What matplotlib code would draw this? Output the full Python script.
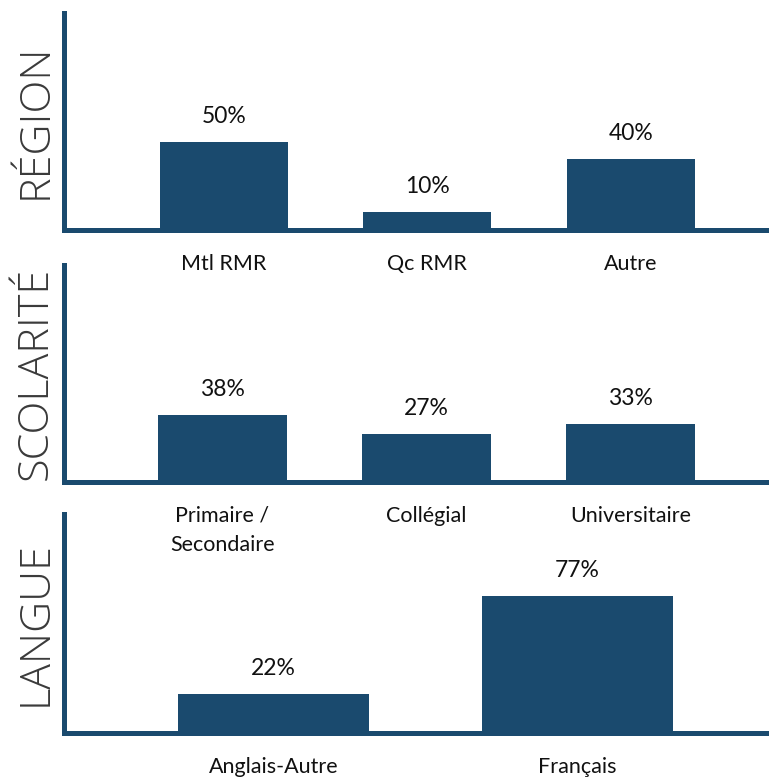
import matplotlib
matplotlib.use("Agg")
import matplotlib.pyplot as plt

region_cats = ["Mtl RMR", "Qc RMR", "Autre"]
region_vals = [50, 10, 40]
scol_cats = ["Primaire /\nSecondaire", "Collégial", "Universitaire"]
scol_vals = [38, 27, 33]
langue_cats = ["Anglais-Autre", "Français"]
langue_vals = [22, 77]
titles = ["RÉGION", "SCOLARITÉ", "LANGUE"]

NAVY = "#1a4a6e"
FONT = "Lato"

fig = plt.figure(figsize=(7.69, 7.79), dpi=100)
W, H = 769, 779

panels = [
    (region_cats, region_vals, 13, 230, (-0.786, 2.68)),
    (scol_cats, scol_vals, 265, 482, (-0.777, 2.68)),
    (langue_cats, langue_vals, 514, 733, (-0.689, 1.63)),
]

for (cats, vals, top, bot, xl), title in zip(panels, titles):
    ax = fig.add_axes([64 / W, 1 - bot / H, (W - 64) / W, (bot - top) / H])
    x = list(range(len(cats)))
    ax.bar(x, vals, width=0.63, color=NAVY, zorder=2)
    ax.set_xlim(*xl)
    ax.set_ylim(0, 123)
    for xi, v in zip(x, vals):
        ax.annotate(f"{v}%", (xi, v), xytext=(0, 11), textcoords="offset points",
                    ha="center", va="bottom", fontsize=16.5, family=FONT, color="#111111")
    ax.set_xticks(x)
    ax.set_xticklabels(cats, fontsize=15.5, family=FONT, color="#111111", linespacing=1.6)
    ax.tick_params(axis="x", length=0, pad=17)
    ax.set_yticks([])
    for s in ["top", "right"]:
        ax.spines[s].set_visible(False)
    for s in ["left", "bottom"]:
        ax.spines[s].set_color(NAVY)
        ax.spines[s].set_linewidth(3.6)
    ax.set_ylabel(title, fontsize=31, family="Open Sans", fontweight="light",
                  color="#3a3a3a", labelpad=5)
    ax.set_facecolor("none")

fig.savefig("out.png", dpi=100)
